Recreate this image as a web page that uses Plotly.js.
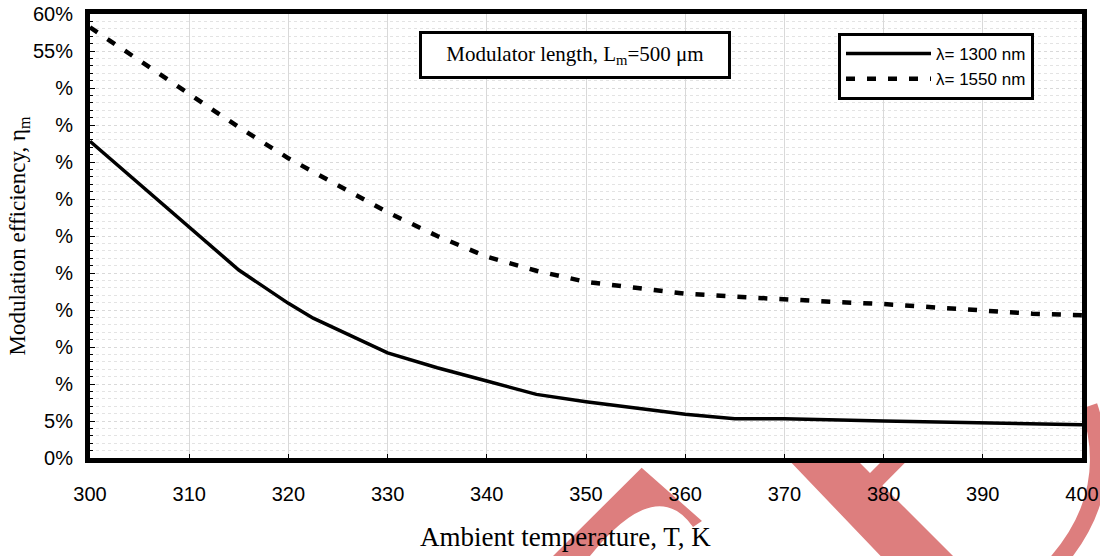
<!DOCTYPE html>
<html>
<head>
<meta charset="utf-8">
<script src="https://cdn.plot.ly/plotly-3.0.1.min.js"></script>
<style>html,body{margin:0;padding:0;background:#fff}#chart{width:1100px;height:556px}</style>
</head>
<body>
<div id="chart"></div>
<script>
// ---- data ----
const temp1300 = [300, 305, 310, 312.5, 315, 320, 322.5, 330, 335, 340, 345, 350, 355, 360, 365, 370, 380, 390, 400];
const eff1300  = [42.8, 37.0, 31.1, 28.2, 25.4, 20.9, 18.9, 14.2, 12.2, 10.4, 8.6, 7.6, 6.8, 5.9, 5.3, 5.3, 5.0, 4.8, 4.5];
const temp1550 = [300, 310, 315, 320, 325, 330, 335, 340, 345, 350, 355, 360, 365, 370, 375, 380, 385, 390, 395, 400];
const eff1550  = [58.2, 49.1, 44.7, 40.5, 36.9, 33.2, 30.0, 27.2, 25.3, 23.8, 23.0, 22.2, 21.8, 21.4, 21.1, 20.8, 20.4, 20.0, 19.5, 19.3];
const seriesNames = ['λ= 1300 nm', 'λ= 1550 nm'];
const yTickVals = [0, 5, 10, 15, 20, 25, 30, 35, 40, 45, 50, 55, 60];
const yTickText = ['0%', '5%', '%', '%', '%', '%', '%', '%', '%', '%', '%', '55%', '60%'];
const xTickVals = [300, 310, 320, 330, 340, 350, 360, 370, 380, 390, 400];
const boxText = 'Modulator length, L<sub>m</sub>=500 μm';
const xTitle = 'Ambient temperature, T, K';
const yTitle = 'Modulation efficiency, η<sub>m</sub>';

// ---- layout geometry (pixels) for decorative watermark ----
const M = {l: 90, r: 18, t: 14, b: 98};
const W = 1100 - M.l - M.r, H = 556 - M.t - M.b;
const px = (x, y) => ((x - M.l) / W).toFixed(4) + ',' + ((556 - M.b - y) / H).toFixed(4);
const red = 'rgb(221,126,126)';
const shapes = [
  {type: 'path', xref: 'paper', yref: 'paper', layer: 'below', fillcolor: red, line: {width: 0},
   path: 'M' + px(540, 569) + ' L' + px(641.7, 467.7) + ' L' + px(702, 521) + ' L' + px(693, 527) +
         ' Q' + px(656, 474) + ' ' + px(590, 556) + ' L' + px(578, 569) + ' Z'},
  {type: 'path', xref: 'paper', yref: 'paper', layer: 'below', fillcolor: red, line: {width: 0},
   path: 'M' + px(785, 456) + ' L' + px(853, 456) + ' L' + px(870, 473) + ' L' + px(887, 456) +
         ' L' + px(911.7, 456) + ' L' + px(882.4, 485.4) + ' L' + px(966, 569) + ' L' + px(893, 569) + ' Z'},
  {type: 'path', xref: 'paper', yref: 'paper', layer: 'below', line: {width: 17, color: red},
   path: 'M' + px(1089, 406) + ' Q' + px(1120, 496) + ' ' + px(1050, 570)},
  {type: 'rect', xref: 'paper', yref: 'paper', layer: 'below', x0: 0, x1: 1, y0: 0, y1: 1,
   fillcolor: '#ffffff', line: {width: 0}}
];

const traces = [
  {x: temp1300, y: eff1300, name: seriesNames[0], type: 'scatter', mode: 'lines',
   line: {color: '#000', width: 3.5}},
  {x: temp1550, y: eff1550, name: seriesNames[1], type: 'scatter', mode: 'lines',
   line: {color: '#000', width: 4.5, dash: '9px,12px'}}
];

const layout = {
  width: 1100, height: 556,
  margin: M,
  paper_bgcolor: '#fff',
  plot_bgcolor: 'rgba(0,0,0,0)',
  font: {family: 'Liberation Sans, Arial, sans-serif', color: '#000', size: 20},
  showlegend: true,
  legend: {
    x: (838 - M.l) / W, y: (556 - M.b - 33) / H, xanchor: 'left', yanchor: 'top',
    bgcolor: '#fff', bordercolor: '#000', borderwidth: 3,
    font: {family: 'Liberation Sans, Arial, sans-serif', size: 17, color: '#000'},
    itemwidth: 85, tracegroupgap: 0
  },
  xaxis: {
    range: [300, 400], tickvals: xTickVals, ticktext: xTickVals.map(String),
    showline: true, linecolor: '#000', linewidth: 5, mirror: true,
    ticks: 'inside', ticklen: 4, tickcolor: '#000', tickwidth: 1,
    showgrid: true, gridcolor: '#d9d9d9', gridwidth: 1,
    zeroline: false, ticklabelstandoff: 14,
    tickfont: {size: 20, family: 'Liberation Sans, Arial, sans-serif'}
  },
  yaxis: {
    range: [0, 60], tickvals: yTickVals, ticktext: yTickText,
    showline: true, linecolor: '#000', linewidth: 5, mirror: true,
    ticks: 'inside', ticklen: 5, tickcolor: '#000', tickwidth: 1,
    showgrid: true, gridcolor: '#d9d9d9', gridwidth: 1, griddash: 'dot',
    zeroline: false, ticklabelstandoff: 8,
    minor: {dtick: 1, showgrid: true, gridcolor: '#e3e3e3', griddash: 'dot', gridwidth: 1,
            ticks: 'inside', ticklen: 3, tickcolor: '#000'},
    tickfont: {size: 20, family: 'Liberation Sans, Arial, sans-serif'},
    title: {text: yTitle, standoff: 2,
            font: {family: 'Liberation Serif, Times New Roman, serif', size: 23, color: '#000'}}
  },
  shapes: shapes,
  annotations: [
    {text: boxText, xref: 'paper', yref: 'paper',
     x: (574.5 - M.l) / W, y: (556 - M.b - 55) / H, xanchor: 'center', yanchor: 'middle',
     showarrow: false, bgcolor: '#fff', bordercolor: '#000', borderwidth: 3,
     width: 302, height: 38, borderpad: 2,
     font: {family: 'Liberation Serif, Times New Roman, serif', size: 21, color: '#000'}},
    {text: xTitle, xref: 'paper', yref: 'paper',
     x: (565 - M.l) / W, y: (556 - M.b - 537) / H, xanchor: 'center', yanchor: 'middle',
     showarrow: false,
     font: {family: 'Liberation Serif, Times New Roman, serif', size: 27, color: '#000'}}
  ]
};

Plotly.newPlot('chart', traces, layout, {displayModeBar: false, staticPlot: true});
</script>
</body>
</html>
